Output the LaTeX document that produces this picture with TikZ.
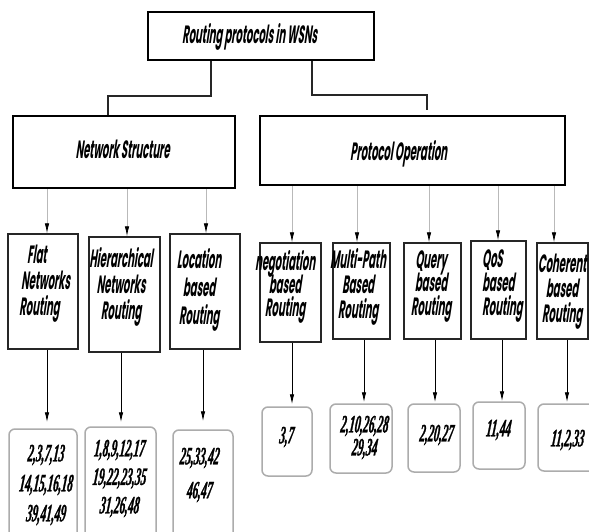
\documentclass[tikz,border=0pt]{standalone}
\usepackage{fontspec}
\newfontfamily\gfont[FakeStretch=0.40,FakeSlant=0.15]{Poppins}
\newfontfamily\rfont[FakeStretch=0.45,FakeBold=1,FakeSlant=0.12]{Liberation Serif}
\usetikzlibrary{arrows.meta,calc}
\begin{document}
\begin{tikzpicture}[x=1pt,y=-1pt,
  lbl/.style={font=\gfont\bfseries\fontsize{25}{26}\selectfont, inner sep=0pt, align=center},
  reftxt/.style={font=\rfont\bfseries\itshape\fontsize{25}{30}\selectfont, inner sep=0pt, align=center},
  topbox/.style={draw, line width=2.8pt, inner sep=0pt},
  midbox/.style={draw, line width=2pt, inner sep=0pt},
  subbox/.style={draw=black!85, line width=1.5pt, inner sep=0pt},
  refbox/.style={draw=gray!65, line width=1.5pt, rounded corners=6pt, inner sep=0pt},
  conn/.style={line width=1.5pt, black!85},
  garrow/.style={gray!55, line width=0.8pt, -{Latex[length=10pt,width=4.5pt,color=black]}},
  barrow/.style={black, line width=0.9pt, -{Latex[length=10pt,width=4.5pt]}}]
\useasboundingbox (0,0) rectangle (589,531);
\clip (0,0) rectangle (589,531);
\fill[white] (0,0) rectangle (589,531);
% top level
\node[topbox, minimum width=226pt, minimum height=48pt] (top) at (261,36) {};
\node[lbl, anchor=base] (toptxt) at (249.5,43) {Routing protocols in WSNs};
\node[midbox, minimum width=222pt, minimum height=72pt] (ns) at (124,152) {};
\node[lbl, anchor=base] (nstxt) at (122.5,158) {Network Structure};
\node[midbox, minimum width=305pt, minimum height=69pt] (po) at (412.5,150.5) {};
\node[lbl, anchor=base] (potxt) at (398.5,160) {Protocol Operation};
% sub boxes
\node[subbox, minimum width=70pt, minimum height=115pt] (fl) at (43,291.5) {};
\node[subbox, minimum width=71pt, minimum height=115pt] (hi) at (124.5,294.5) {};
\node[subbox, minimum width=70pt, minimum height=115pt] (lo) at (205,291.5) {};
\node[subbox, minimum width=61pt, minimum height=99pt] (ne) at (290.5,292.5) {};
\node[subbox, minimum width=57pt, minimum height=96pt] (mu) at (361.5,291) {};
\node[subbox, minimum width=57pt, minimum height=96pt] (qu) at (432.5,291) {};
\node[subbox, minimum width=55pt, minimum height=98pt] (qo) at (498.5,290) {};
\node[subbox, minimum width=51pt, minimum height=96pt] (co) at (562.5,291) {};
\node[lbl, anchor=west, align=left] (flt) at (19,284) {\hspace*{8pt}Flat\\\hspace*{2pt}Networks\\Routing};
\node[lbl] (hit) at (121,286.5) {Hierarchical\\Networks\\Routing};
\node[lbl] (lot) at (199,290) {Location\\[2pt]based\\[2pt]Routing};
\node[lbl] (net) at (285,287) {negotiation\\[-3pt]based\\[-3pt]Routing};
\node[lbl] (mut) at (358,287) {Multi-Path\\[-1pt]Based\\[-1pt]Routing};
\node[lbl] (qut) at (431,286.5) {Query\\[-2.5pt]based\\[-2.5pt]Routing};
\node[lbl, anchor=west, align=left] (qot) at (482,286) {QoS\\[-2pt]based\\[-2pt]Routing};
\node[lbl] (cot) at (562,292) {Coherent\\[-1pt]based\\[-1pt]Routing};
% reference boxes
\node[refbox, minimum width=68pt, minimum height=116pt] (flr) at (43,487) {};
\node[refbox, minimum width=71pt, minimum height=118pt] (hir) at (120.5,486) {};
\node[refbox, minimum width=60pt, minimum height=115pt] (lor) at (203,487.5) {};
\node[refbox, minimum width=50pt, minimum height=69pt] (ner) at (287,441.5) {};
\node[refbox, minimum width=62pt, minimum height=69pt] (mur) at (361,438.5) {};
\node[refbox, minimum width=52pt, minimum height=68pt] (qur) at (434,438) {};
\node[refbox, minimum width=52pt, minimum height=67pt] (qor) at (499,435.5) {};
\node[refbox, minimum width=59pt, minimum height=67pt] (cor) at (567.5,437.5) {};
\node[reftxt] (flrt) at (45.5,485) {2,3,7,13\\14,15,16,18\\39,41,49};
\node[reftxt] (hirt) at (119,478.5) {1,8,9,12,17\\[-1.5pt]19,22,23,35\\[-1.5pt]31,26,48};
\node[reftxt] (lort) at (199,475) {25,33,42\\[4pt]46,47};
\node[reftxt] (nert) at (286,437) {3,7};
\node[reftxt] (murt) at (364,437.5) {2,10,26,28\\[-7pt]29,34};
\node[reftxt] (qurt) at (436,435) {2,20,27};
\node[reftxt] (qort) at (498,430) {11,44};
\node[reftxt] (cort) at (567,440) {11,2,33};
% connectors from root
\draw[conn] ($(top.south)+(-50,0)$) |- ($(ns.north)+(-16,-19)$) -- ($(ns.north)+(-16,0)$);
\draw[conn] ($(top.south)+(51,0)$) |- ($(po.north)+(14.5,-20)$) -- ($(po.north)+(14.5,-5)$);
% gray arrows to categories
\draw[garrow] ($(fl.north |- ns.south)+(4,0)$) -- ($(fl.north)+(4,0)$);
\draw[garrow] ($(hi.north |- ns.south)+(2.5,0)$) -- ($(hi.north)+(2.5,0)$);
\draw[garrow] ($(lo.north |- ns.south)+(1,0)$) -- ($(lo.north)+(1,0)$);
\draw[garrow] ($(ne.north |- po.south)+(1.5,0)$) -- ($(ne.north)+(1.5,0)$);
\draw[garrow] ($(mu.north |- po.south)+(-4.5,0)$) -- ($(mu.north)+(-4.5,0)$);
\draw[garrow] ($(qu.north |- po.south)+(-3.5,0)$) -- ($(qu.north)+(-3.5,0)$);
\draw[garrow] ($(qo.north |- po.south)+(-0.5,0)$) -- ($(qo.north)+(-0.5,0)$);
\draw[garrow] ($(co.north |- po.south)+(-8.5,0)$) -- ($(co.north)+(-8.5,0)$);
% black arrows to references
\draw[barrow] ($(fl.south)+(4,0)$) -- ($(flr.north)+(4,-6)$);
\draw[barrow] ($(hi.south)+(-3.5,0)$) -- ($(hir.north)+(0.5,-4)$);
\draw[barrow] ($(lo.south)+(-2,0)$) -- ($(lor.north)+(0,-8)$);
\draw[barrow] ($(ne.south)+(1.5,0)$) -- ($(ner.north)+(5,-2)$);
\draw[barrow] ($(mu.south)+(2.5,0)$) -- ($(mur.north)+(3,-1)$);
\draw[barrow] ($(qu.south)+(2.5,0)$) -- ($(qur.north)+(1,-1)$);
\draw[barrow] ($(qo.south)+(3.5,0)$) -- ($(qor.north)+(3,0)$);
\draw[barrow] ($(co.south)+(4.5,0)$) -- ($(cor.north)+(-0.5,-1)$);
\end{tikzpicture}
\end{document}
